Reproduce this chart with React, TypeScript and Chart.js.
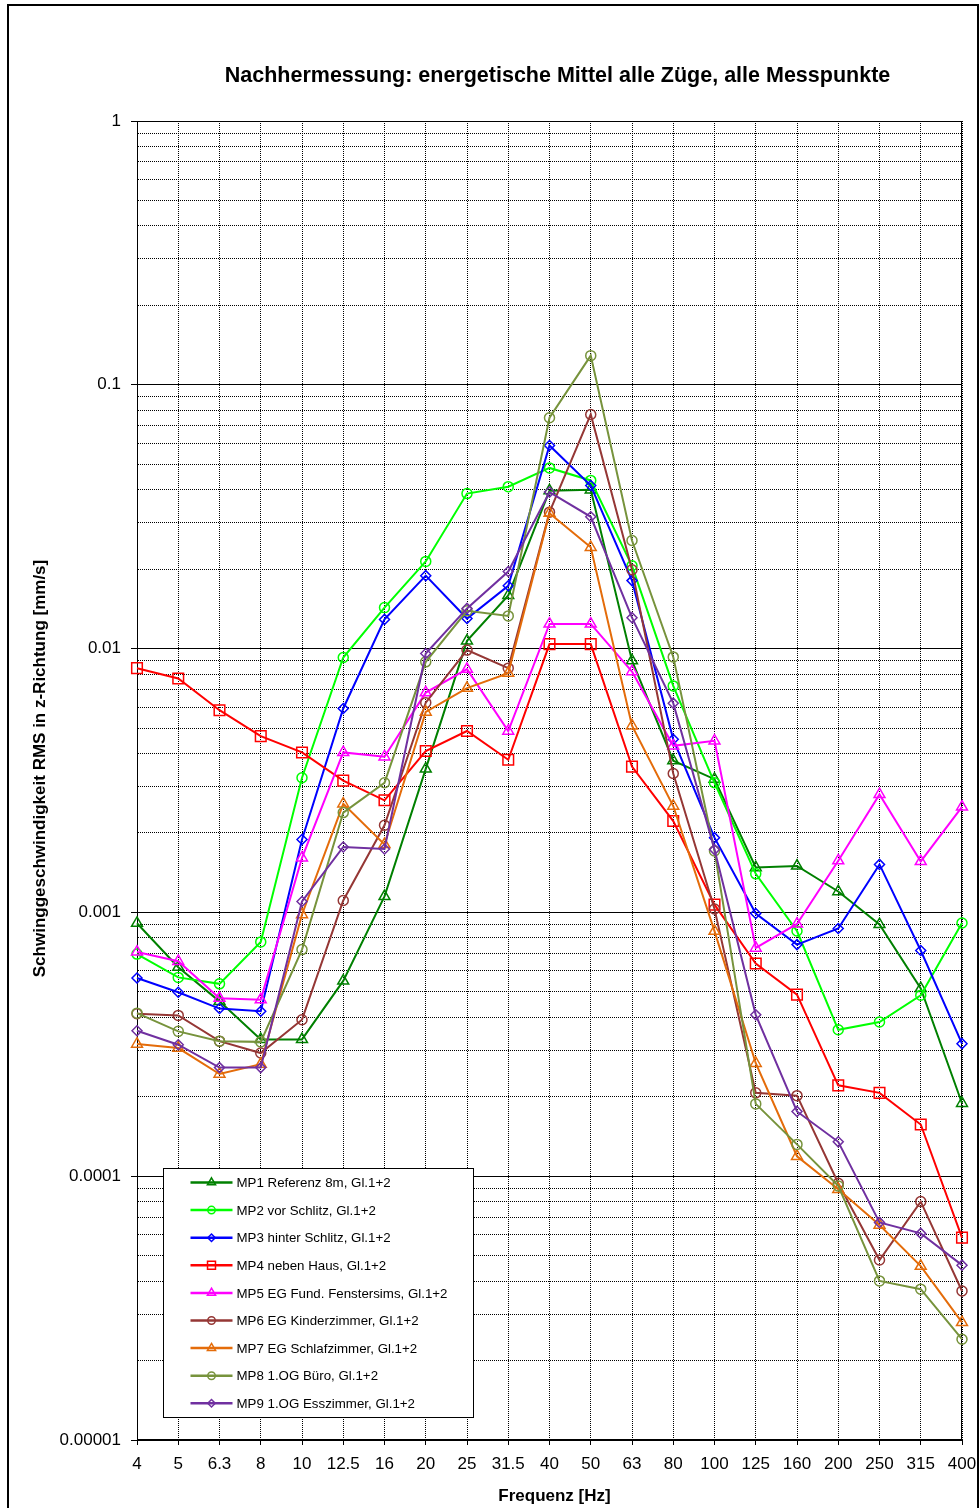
import { useEffect, useRef } from 'react';
import { Chart, registerables } from 'chart.js';

Chart.register(...registerables);

const FONT = "'Liberation Sans', Arial, Helvetica, sans-serif";

const chartTitle = 'Nachhermessung: energetische Mittel alle Züge, alle Messpunkte';
const xAxisTitle = 'Frequenz [Hz]';
const yAxisTitle = 'Schwinggeschwindigkeit RMS in z-Richtung [mm/s]';

const frequencies = ['4', '5', '6.3', '8', '10', '12.5', '16', '20', '25', '31.5', '40', '50', '63', '80', '100', '125', '160', '200', '250', '315', '400'];

const mp1 = [0.00091, 0.00062, 0.00046, 0.00033, 0.00033, 0.00055, 0.00115, 0.0035, 0.0107, 0.0159, 0.0397, 0.04, 0.009, 0.00376, 0.0032, 0.00148, 0.0015, 0.0012, 0.0009, 0.000515, 0.000189];
const mp2 = [0.000695, 0.000567, 0.000536, 0.000773, 0.00324, 0.00925, 0.0143, 0.0214, 0.0387, 0.0411, 0.0484, 0.0434, 0.0206, 0.00722, 0.0031, 0.0014, 0.00085, 0.000359, 0.000384, 0.000485, 0.000912];
const mp3 = [0.000564, 0.000498, 0.000432, 0.000422, 0.00189, 0.00593, 0.0129, 0.0189, 0.013, 0.0173, 0.0589, 0.0415, 0.0181, 0.00453, 0.00192, 0.00099, 0.000755, 0.000869, 0.00152, 0.000717, 0.000318];
const mp4 = [0.00843, 0.0077, 0.00584, 0.00466, 0.00404, 0.00316, 0.00266, 0.00409, 0.00487, 0.00379, 0.0104, 0.0104, 0.00357, 0.00222, 0.00107, 0.00064, 0.000488, 0.000221, 0.000207, 0.000157, 0.0000585];
const mp5 = [0.000708, 0.000653, 0.000473, 0.000467, 0.00161, 0.00404, 0.00389, 0.00681, 0.00836, 0.00487, 0.0124, 0.0124, 0.00819, 0.00428, 0.00447, 0.000733, 0.000904, 0.00157, 0.0028, 0.00156, 0.00251];
const mp6 = [0.000413, 0.000407, 0.000325, 0.000293, 0.000392, 0.00111, 0.00214, 0.00624, 0.00987, 0.00843, 0.0329, 0.0772, 0.0199, 0.00336, 0.00103, 0.000207, 0.000202, 0.000094, 0.0000481, 0.0000801, 0.0000367];
const mp7 = [0.000317, 0.000306, 0.000244, 0.000266, 0.000982, 0.00258, 0.00181, 0.00575, 0.00708, 0.00807, 0.0326, 0.0242, 0.0051, 0.00253, 0.000849, 0.000268, 0.000119, 0.0000892, 0.0000653, 0.0000456, 0.0000279];
const mp8 = [0.000415, 0.000354, 0.000325, 0.000323, 0.000723, 0.00239, 0.0031, 0.00891, 0.0139, 0.0133, 0.075, 0.129, 0.0257, 0.0093, 0.00171, 0.000188, 0.000132, 0.0000919, 0.0000401, 0.0000373, 0.0000241];
const mp9 = [0.000356, 0.000315, 0.000258, 0.000258, 0.0011, 0.00177, 0.00174, 0.00958, 0.0142, 0.0196, 0.0392, 0.0316, 0.0131, 0.00621, 0.00173, 0.000409, 0.000176, 0.000135, 0.0000668, 0.0000607, 0.000046];

const seriesValues = [mp1, mp2, mp3, mp4, mp5, mp6, mp7, mp8, mp9];
const seriesNames = [
  'MP1 Referenz 8m, Gl.1+2',
  'MP2 vor Schlitz, Gl.1+2',
  'MP3 hinter Schlitz, Gl.1+2',
  'MP4 neben Haus, Gl.1+2',
  'MP5 EG Fund. Fenstersims, Gl.1+2',
  'MP6 EG Kinderzimmer, Gl.1+2',
  'MP7 EG Schlafzimmer, Gl.1+2',
  'MP8 1.OG Büro, Gl.1+2',
  'MP9 1.OG Esszimmer, Gl.1+2',
];
const seriesColors = ['#008000', '#00FF00', '#0000FF', '#FF0000', '#FF00FF', '#953735', '#E46C0A', '#77933C', '#7030A0'];
const seriesMarkers = ['triangle', 'circle', 'rectRot', 'rect', 'triangle', 'circle', 'triangle', 'circle', 'rectRot'];
const markerRadius: Record<string, number> = { triangle: 6.3, circle: 5, rectRot: 5, rect: 7.5 };

const yMin = 0.00001;
const yMax = 1;
const yDecadeLabels = ['0.00001', '0.0001', '0.001', '0.01', '0.1', '1'];

function isDecade(v: number) {
  const l = Math.log10(v);
  return Math.abs(l - Math.round(l)) < 1e-9;
}

function decadeLabel(v: number) {
  const idx = Math.round(Math.log10(v)) + 5;
  return yDecadeLabels[idx] ?? '';
}

function buildLogTicks() {
  const ticks: { value: number; major: boolean }[] = [];
  for (let e = Math.round(Math.log10(yMin)); e < Math.round(Math.log10(yMax)); e++) {
    for (let m = 1; m <= 9; m++) {
      ticks.push({ value: m * Math.pow(10, e), major: m === 1 });
    }
  }
  ticks.push({ value: yMax, major: true });
  return ticks;
}

function drawMarker(ctx: CanvasRenderingContext2D, style: string, x: number, y: number, r: number) {
  ctx.beginPath();
  if (style === 'circle') {
    ctx.arc(x, y, r, 0, Math.PI * 2);
  } else if (style === 'triangle') {
    for (let k = 0; k < 3; k++) {
      const a = (k * 2 * Math.PI) / 3;
      const px = x + Math.sin(a) * r;
      const py = y - Math.cos(a) * r;
      if (k === 0) ctx.moveTo(px, py);
      else ctx.lineTo(px, py);
    }
    ctx.closePath();
  } else if (style === 'rect') {
    const s = r * Math.SQRT1_2;
    ctx.rect(x - s, y - s, 2 * s, 2 * s);
  } else {
    ctx.moveTo(x - r, y);
    ctx.lineTo(x, y - r);
    ctx.lineTo(x + r, y);
    ctx.lineTo(x, y + r);
    ctx.closePath();
  }
  ctx.stroke();
}

const decorPlugin = {
  id: 'decor',
  beforeDatasetsDraw(chart: any) {
    const { ctx, chartArea: a } = chart;
    ctx.save();
    ctx.strokeStyle = '#000';
    ctx.lineWidth = 1;
    ctx.strokeRect(Math.round(a.left) + 0.5, Math.round(a.top) + 0.5, Math.round(a.right - a.left) - 1, Math.round(a.bottom - a.top) - 1);
    ctx.restore();
  },
  afterDraw(chart: any) {
    const { ctx, chartArea: a } = chart;
    ctx.save();
    ctx.fillStyle = '#000';
    ctx.textBaseline = 'middle';
    ctx.textAlign = 'center';
    // chart title
    ctx.font = `bold 21.5px ${FONT}`;
    ctx.fillText(chartTitle, (a.left + a.right) / 2 + 8, a.top - 45);
    // x axis title
    ctx.font = `bold 17px ${FONT}`;
    ctx.fillText(xAxisTitle, (a.left + a.right) / 2 + 5, a.bottom + 56);
    // y axis title
    ctx.save();
    ctx.translate(a.left - 97, (a.top + a.bottom) / 2 - 12);
    ctx.rotate(-Math.PI / 2);
    ctx.font = `bold 17px ${FONT}`;
    ctx.fillText(yAxisTitle, 0, 0);
    ctx.restore();

    // legend box
    const bx = Math.round(a.left + 26) + 0.5;
    const by = Math.round(a.bottom - 272) + 0.5;
    const bw = 310;
    const bh = 249;
    ctx.fillStyle = '#fff';
    ctx.fillRect(bx, by, bw, bh);
    ctx.strokeStyle = '#000';
    ctx.lineWidth = 1;
    ctx.strokeRect(bx, by, bw, bh);
    ctx.textAlign = 'left';
    ctx.font = `13.3px ${FONT}`;
    chart.data.datasets.forEach((ds: any, i: number) => {
      const cy = by + 14 + i * 27.6;
      ctx.strokeStyle = ds.borderColor;
      ctx.lineWidth = 2.5;
      ctx.beginPath();
      ctx.moveTo(bx + 27, cy);
      ctx.lineTo(bx + 69, cy);
      ctx.stroke();
      ctx.lineWidth = 1.5;
      drawMarker(ctx, ds.pointStyle, bx + 48, cy, (markerRadius[ds.pointStyle] || 5) * 0.75);
      ctx.fillStyle = '#000';
      ctx.fillText(ds.label, bx + 73, cy + 1);
    });
    ctx.restore();
  },
};

export default function App() {
  const ref = useRef<HTMLCanvasElement>(null);

  useEffect(() => {
    if (!ref.current) return;
    const datasets = seriesValues.map((vals, i) => ({
      label: seriesNames[i],
      data: vals,
      borderColor: seriesColors[i],
      backgroundColor: 'rgba(0,0,0,0)',
      borderWidth: 2,
      pointStyle: seriesMarkers[i],
      pointRadius: markerRadius[seriesMarkers[i]],
      pointBorderWidth: 1.5,
      pointBorderColor: seriesColors[i],
      pointBackgroundColor: 'rgba(0,0,0,0)',
      tension: 0,
      fill: false,
      order: 9 - i,
      yAxisID: 'y',
    }));

    const chart = new Chart(ref.current, {
      type: 'line',
      data: { labels: frequencies, datasets },
      options: {
        responsive: false,
        animation: false,
        events: [],
        layout: { padding: { left: 0, right: 17, top: 121, bottom: 0 } },
        plugins: {
          legend: { display: false },
          tooltip: { enabled: false },
          title: { display: false },
        },
        scales: {
          x: {
            type: 'category',
            offset: false,
            afterFit: (s: any) => {
              s.height = 68;
              s.paddingLeft = 0;
              s.paddingRight = 0;
            },
            grid: {
              offset: false,
              color: '#000',
              lineWidth: 1,
              tickColor: '#000',
              tickLength: 5,
            },
            border: { display: true, color: '#000', width: 1, dash: [1, 1] },
            ticks: {
              color: '#000',
              font: { family: FONT, size: 17 },
              padding: 9,
              maxRotation: 0,
              autoSkip: false,
            },
          },
          y: {
            type: 'logarithmic',
            position: 'left',
            min: yMin,
            max: yMax,
            afterBuildTicks: (s: any) => {
              s.ticks = buildLogTicks();
            },
            afterFit: (s: any) => {
              s.width = 137;
              s.paddingTop = 0;
              s.paddingBottom = 0;
            },
            grid: {
              color: (c: any) => (c.tick && isDecade(c.tick.value) ? 'rgba(0,0,0,0)' : '#000'),
              lineWidth: 1,
              tickColor: (c: any) => (c.tick && isDecade(c.tick.value) ? '#000' : 'rgba(0,0,0,0)'),
              tickLength: 6,
            },
            border: { display: true, color: '#000', width: 1, dash: [1, 1] },
            ticks: {
              color: '#000',
              font: { family: FONT, size: 17 },
              padding: 10,
              autoSkip: false,
              callback: (v: any) => (isDecade(Number(v)) ? decadeLabel(Number(v)) : ''),
            },
          },
          yMajor: {
            type: 'logarithmic',
            position: 'left',
            min: yMin,
            max: yMax,
            afterBuildTicks: (s: any) => {
              s.ticks = buildLogTicks();
            },
            afterFit: (s: any) => {
              s.width = 0;
              s.paddingTop = 0;
              s.paddingBottom = 0;
            },
            grid: {
              color: (c: any) => (c.tick && isDecade(c.tick.value) ? '#000' : 'rgba(0,0,0,0)'),
              lineWidth: 1,
              drawTicks: false,
            },
            border: { display: false },
            ticks: { display: false },
          },
        },
      },
      plugins: [decorPlugin],
    } as any);

    return () => chart.destroy();
  }, []);

  return (
    <div style={{ position: 'fixed', left: 0, top: 0, width: 979, height: 1508, background: '#fff', overflow: 'hidden' }}>
      <div
        style={{
          position: 'absolute',
          left: 7,
          top: 4,
          width: 972,
          height: 1520,
          border: '2px solid #000',
          boxSizing: 'border-box',
        }}
      />
      <canvas ref={ref} width={979} height={1508} style={{ position: 'absolute', left: 0, top: 0, width: 979, height: 1508 }} />
    </div>
  );
}
